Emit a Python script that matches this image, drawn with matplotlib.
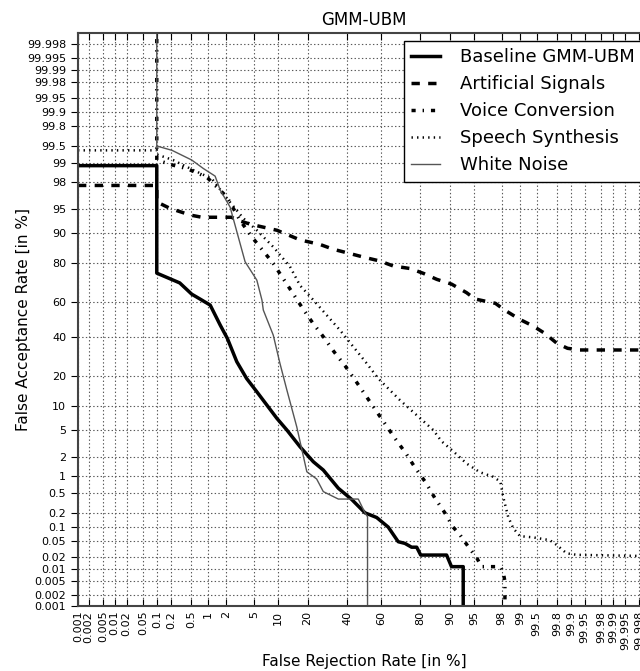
import numpy as np
import matplotlib
matplotlib.use("Agg")
import matplotlib.pyplot as plt
from matplotlib.ticker import FixedLocator, FixedFormatter
from statistics import NormalDist

plt.rcParams['lines.scale_dashes'] = False

# DET curves, (FRR %, FAR %)
baseline_x = [0.001, 0.1, 0.1, 0.3, 0.51, 0.73, 1.09, 1.6, 2.08, 2.89, 4.0, 5.5, 9.7, 12.5, 17.0,
              22.5, 27.2, 35.1, 42.7, 50.6, 57.5, 64.1, 69.5, 72.9, 76.1, 78.4, 80.1, 89.1, 90.4,
              93.05, 93.05]
baseline_y = [98.9, 98.9, 75.5, 70.7, 64.7, 61.9, 58.5, 46.7, 38.9, 26.5, 19.0, 14.1, 7.05, 5.0, 2.91,
              1.71, 1.25, 0.60, 0.37, 0.20, 0.16, 0.10, 0.047, 0.043, 0.035, 0.035, 0.0227, 0.0227, 0.0117,
              0.0117, 0.0001]

artificial_x = [0.001, 0.1, 0.1, 0.19, 0.48, 0.78, 2.4, 3.2, 4.5, 9.7, 17.0, 25.6, 32.4, 39.8, 50.6,
                59.4, 66.9, 75.4, 81.2, 86.1, 90.4, 93.7, 95.1, 97.5, 98.2, 99.0, 99.42, 99.65, 99.80,
                99.88, 99.936, 99.9999]
artificial_y = [97.7, 97.7, 96.0, 95.1, 94.0, 93.6, 93.6, 92.9, 92.2, 90.8, 88.2, 86.8, 85.2, 84.0, 82.2,
                80.8, 78.7, 77.6, 75.4, 72.5, 70.1, 65.5, 62.0, 59.5, 55.6, 50.0, 46.1, 41.8, 36.1,
                33.4, 32.5, 32.5]

voice_x = [0.1, 0.1, 0.22, 0.41, 0.95, 2.04, 3.23, 4.7, 8.8, 14.1, 18.0, 22.2, 27.2, 32.7, 38.9, 44.7,
           56.5, 67.8, 73.4, 77.6, 82.2, 85.5, 88.6, 90.8, 92.4, 94.0, 95.4, 96.0, 97.9, 98.1, 98.22,
           98.22]
voice_y = [99.9999, 99.12, 98.92, 98.77, 98.3, 96.6, 93.0, 89.1, 79.8, 66.0, 56.6, 48.0, 39.9, 31.6, 24.5,
           18.4, 9.1, 3.84, 2.31, 1.39, 0.755, 0.39, 0.20, 0.10, 0.067, 0.036, 0.019, 0.0117, 0.0117,
           0.0087, 0.0048, 0.0001]

speech_x = [0.001, 0.1, 0.1, 0.22, 0.55, 1.16, 2.16, 3.6, 5.5, 8.8, 13.5, 17.0, 22.5, 28.9, 36.0, 43.7,
            51.6, 58.4, 70.4, 84.9, 87.6, 90.8, 93.7, 95.8, 97.3, 97.9, 98.1, 98.42, 98.7, 99.0, 99.42,
            99.72, 99.80, 99.874, 99.924, 99.9999]
speech_y = [99.41, 99.41, 99.3, 99.12, 98.69, 98.2, 96.2, 93.4, 90.8, 86.0, 78.4, 69.4, 61.4, 52.6, 43.7,
            34.2, 25.7, 19.0, 11.5, 5.0, 3.5, 2.5, 1.6, 1.15, 0.96, 0.79, 0.42, 0.166, 0.094, 0.063,
            0.059, 0.051, 0.039, 0.025, 0.023, 0.0207]

noise_x = [0.1, 0.1, 0.21, 0.51, 0.83, 1.32, 1.6, 2.29, 3.81, 5.5, 6.4, 6.66, 8.8, 10.5, 12.5, 15.8,
           19.7, 24.0, 27.2, 35.1, 46.6, 50.6, 52.1, 52.1]
noise_y = [99.9999, 99.51, 99.41, 99.12, 98.77, 98.36, 97.3, 95.3, 80.5, 72.1, 61.4, 55.6, 40.8, 25.7,
           14.7, 5.5, 1.17, 0.88, 0.52, 0.376, 0.376, 0.20, 0.166, 0.0001]

ticks = [0.001, 0.002, 0.005, 0.01, 0.02, 0.05, 0.1, 0.2, 0.5, 1, 2, 5, 10, 20, 40, 60, 80, 90, 95,
         98, 99, 99.5, 99.8, 99.9, 99.95, 99.98, 99.99, 99.995, 99.998]
tick_labels = ['0.001', '0.002', '0.005', '0.01', '0.02', '0.05', '0.1', '0.2', '0.5', '1', '2', '5',
               '10', '20', '40', '60', '80', '90', '95', '98', '99', '99.5', '99.8', '99.9', '99.95',
               '99.98', '99.99', '99.995', '99.998']

nd = NormalDist()
_ppf = np.vectorize(nd.inv_cdf, otypes=[float])
_cdf = np.vectorize(nd.cdf, otypes=[float])


def probit(p):
    p = np.clip(np.asarray(p, dtype=float) / 100.0, 1e-12, 1 - 1e-12)
    return _ppf(p)


def unprobit(z):
    return _cdf(np.asarray(z, dtype=float)) * 100.0


fig = plt.figure(figsize=(6.4, 6.71), dpi=100)
ax = fig.add_axes([78 / 640, 65 / 671, 572 / 640, 573 / 671])
ax.set_xscale('function', functions=(probit, unprobit))
ax.set_yscale('function', functions=(probit, unprobit))

ax.plot(baseline_x, baseline_y, color='k', lw=2.5, label='Baseline GMM-UBM')
ax.plot(artificial_x, artificial_y, color='k', lw=2.5, dashes=(6, 6), label='Artificial Signals')
ax.plot(voice_x, voice_y, color='k', lw=2.5, dashes=(3, 5, 1, 5), label='Voice Conversion')
ax.plot(speech_x, speech_y, color='k', lw=1.8, dashes=(1, 3), label='Speech Synthesis')
ax.plot(noise_x, noise_y, color='#555555', lw=1.0, label='White Noise')

ax.set_xlim(0.001, 99.999)
ax.set_ylim(0.001, 99.999)
for axis in (ax.xaxis, ax.yaxis):
    axis.set_major_locator(FixedLocator(ticks))
    axis.set_major_formatter(FixedFormatter(tick_labels))
    axis.set_minor_locator(FixedLocator([]))
ax.tick_params(axis='x', labelrotation=90, labelsize=8, direction='in', top=True, length=5)
ax.tick_params(axis='y', labelsize=8, direction='out', length=5)
ax.grid(True, color='0.35', linestyle=':', lw=0.8)

for s in ax.spines.values():
    s.set_color('#444444')
    s.set_linewidth(1.5)

ax.set_title('GMM-UBM', fontsize=12)
ax.set_xlabel('False Rejection Rate [in %]', fontsize=11, labelpad=3)
ax.set_ylabel('False Acceptance Rate [in %]', fontsize=11, labelpad=-3)

leg = ax.legend(loc='upper right', fontsize=13, fancybox=False, handlelength=1.6,
                handletextpad=1.1, framealpha=1, edgecolor='k', borderaxespad=0.45)
leg.get_frame().set_linewidth(1.0)

fig.savefig('out.png', dpi=100)
